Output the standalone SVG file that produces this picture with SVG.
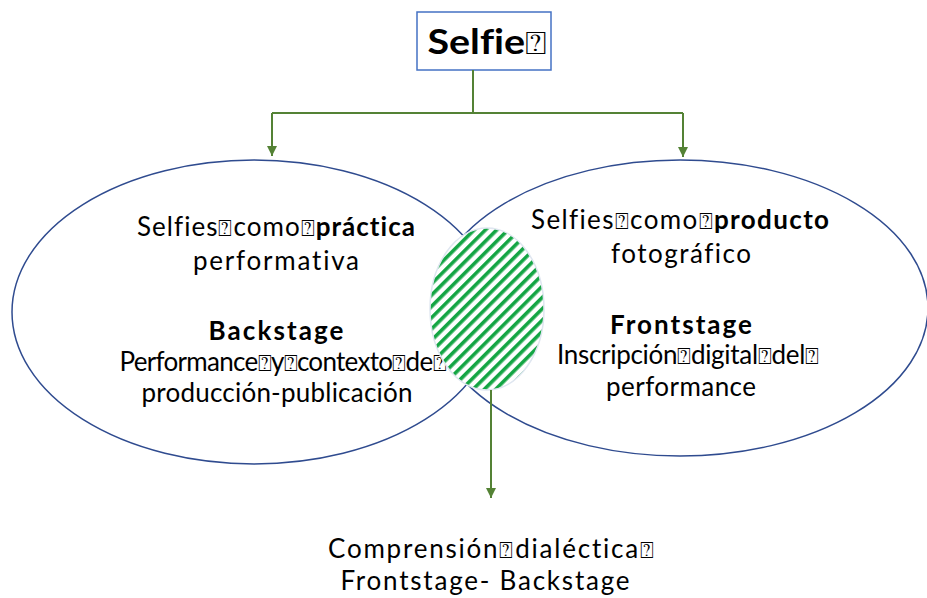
<svg xmlns="http://www.w3.org/2000/svg" width="927" height="598" viewBox="0 0 927 598">
<defs>
<style>
.t{font-family:Lato,"Open Sans","DejaVu Sans",sans-serif;font-size:26px;fill:#000;text-anchor:middle;font-variant-ligatures:none}
.b{font-weight:bold}
.q{font-family:"DejaVu Sans","Noto Sans",sans-serif;font-weight:normal;font-size:0.9em}
.ell{fill:none;stroke:#2F4B8F;stroke-width:1.5}
.con{fill:none;stroke:#548235;stroke-width:2}
</style>
<marker id="ah" viewBox="0 0 10 10" refX="10" refY="5" markerWidth="5" markerHeight="5" orient="auto" markerUnits="strokeWidth">
<path d="M0,0 L10,5 L0,10 z" fill="#548235"/>
</marker>
<pattern id="hatch" width="8" height="8" patternUnits="userSpaceOnUse" patternTransform="rotate(-45)">
<rect width="8" height="8" fill="#fff"/>
<rect width="8" height="3.6" fill="#14A544"/>
</pattern>
</defs>
<rect width="927" height="598" fill="#fff"/>
<g id="node-selfie">
<rect x="417" y="12" width="134" height="58" fill="#fff" stroke="#4472C4" stroke-width="1.5"/>
<text class="t b" x="487" y="54" style="font-size:35px" textLength="119" lengthAdjust="spacingAndGlyphs">Selfie<tspan class="q">⍰</tspan></text>
</g>
<g id="node-practica">
<ellipse class="ell" cx="254" cy="312" rx="242" ry="152"/>
<text class="t" x="276" y="236" textLength="278">Selfies<tspan class="q">⍰</tspan>como<tspan class="q">⍰</tspan><tspan class="b">práctica</tspan></text>
<text class="t" x="276" y="270" textLength="166">performativa</text>
<text class="t b" x="276" y="340" textLength="135">Backstage</text>
<text class="t" x="283" y="371" textLength="327">Performance<tspan class="q">⍰</tspan>y<tspan class="q">⍰</tspan>contexto<tspan class="q">⍰</tspan>de<tspan class="q">⍰</tspan></text>
<text class="t" x="277" y="402" textLength="271">producción-publicación</text>
</g>
<g id="node-producto">
<ellipse class="ell" cx="680" cy="308" rx="248" ry="148"/>
<text class="t" x="680" y="229" textLength="298">Selfies<tspan class="q">⍰</tspan>como<tspan class="q">⍰</tspan><tspan class="b">producto</tspan></text>
<text class="t" x="681" y="263" textLength="140">fotográfico</text>
<text class="t b" x="681" y="334" textLength="142">Frontstage</text>
<text class="t" x="688" y="364" textLength="262">Inscripción<tspan class="q">⍰</tspan>digital<tspan class="q">⍰</tspan>del<tspan class="q">⍰</tspan></text>
<text class="t" x="681" y="396" textLength="150">performance</text>
</g>
<g id="node-interseccion">
<ellipse cx="487" cy="309" rx="57" ry="81" fill="url(#hatch)" stroke="#dfe6f0" stroke-width="1.5"/>
</g>
<g id="node-comprension">
<text class="t" x="491" y="558" textLength="326">Comprensión<tspan class="q">⍰</tspan>dialéctica<tspan class="q">⍰</tspan></text>
<text class="t" x="485" y="590" textLength="289">Frontstage- Backstage</text>
</g>
<g id="connectors">
<path class="con" d="M473,70 V113 M272,113 H683"/>
<path class="con" d="M272,113 V156" marker-end="url(#ah)"/>
<path class="con" d="M683,113 V157" marker-end="url(#ah)"/>
<path class="con" d="M491,390 V498" marker-end="url(#ah)"/>
</g>
</svg>
